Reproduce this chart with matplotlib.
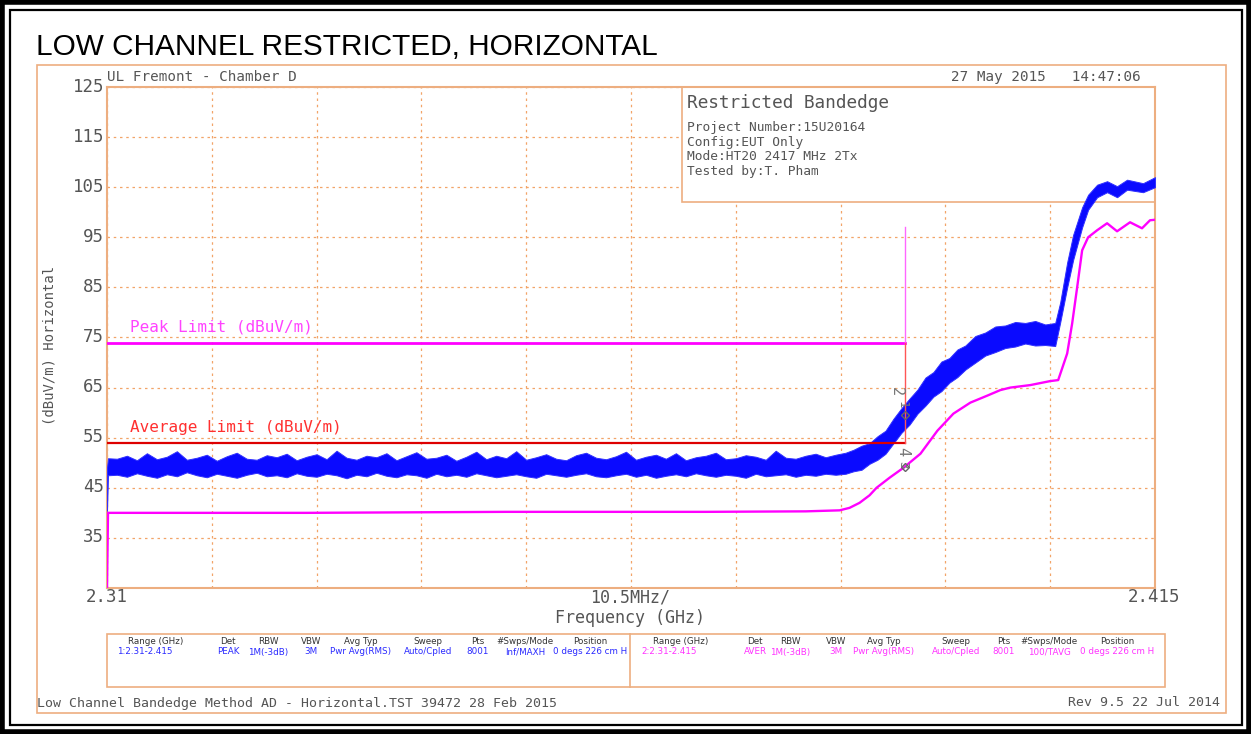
import matplotlib
matplotlib.use("Agg")
import matplotlib.pyplot as plt
from matplotlib.patches import Rectangle

# ---------------------------------------------------------------------------
# data (GHz / dBuV/m)
# peak trace is noisy, so it is kept as a low/high envelope
# ---------------------------------------------------------------------------
peak_freq = [2.3100, 2.3101,
             2.311, 2.312, 2.313, 2.314, 2.315, 2.316, 2.317, 2.318, 2.319, 2.320,
             2.321, 2.322, 2.323, 2.324, 2.325, 2.326, 2.327, 2.328, 2.329, 2.330,
             2.331, 2.332, 2.333, 2.334, 2.335, 2.336, 2.337, 2.338, 2.339, 2.340,
             2.341, 2.342, 2.343, 2.344, 2.345, 2.346, 2.347, 2.348, 2.349, 2.350,
             2.351, 2.352, 2.353, 2.354, 2.355, 2.356, 2.357, 2.358, 2.359, 2.360,
             2.361, 2.362, 2.363, 2.364, 2.365, 2.366, 2.367, 2.368, 2.369, 2.370,
             2.371, 2.372, 2.373, 2.374, 2.375, 2.376, 2.377, 2.378, 2.379, 2.380,
             2.381, 2.382, 2.383,
             2.3840, 2.3848, 2.3856, 2.3864, 2.3872, 2.3880, 2.3888, 2.3896, 2.3904,
             2.3912, 2.3920, 2.3928, 2.3936, 2.3944, 2.3952, 2.3960, 2.3970, 2.3980,
             2.3990, 2.4000, 2.4010, 2.4020, 2.4030, 2.4040, 2.4050,
             2.4055, 2.4062, 2.4068, 2.4077, 2.4083, 2.4092, 2.4102, 2.4112, 2.4122,
             2.4138, 2.4150]
peak_lo = [40.4, 47.5,
           47.6, 47.2, 47.9, 47.4, 47.0, 47.7, 47.3, 48.1, 47.5, 47.1,
           47.8, 47.4, 47.0, 47.6, 48.0, 47.3, 47.5, 47.1, 47.9, 47.4,
           47.2, 47.8, 47.5, 46.9, 47.6, 47.3, 48.0, 47.4, 47.1, 47.7,
           47.5, 47.0, 47.8, 47.3, 47.6, 47.2, 47.9, 47.5, 47.1, 47.4,
           47.7, 47.3, 47.0, 47.8, 47.5, 47.2, 47.6, 47.9, 47.3, 47.1,
           47.5, 47.8, 47.2, 47.6, 47.0, 47.4, 47.7, 47.3, 47.9, 47.5,
           47.2, 47.6, 47.4, 47.0, 47.8, 47.3, 47.5, 47.7, 47.2, 47.6,
           47.4, 47.8, 47.6,
           47.8, 48.3, 48.6, 49.8, 50.6, 51.8, 53.9, 56.0, 57.6,
           59.8, 61.4, 63.2, 64.3, 66.0, 67.1, 68.6, 70.0, 71.4,
           72.1, 72.9, 73.2, 73.8, 73.4, 73.5, 73.3,
           78.0, 85.0, 90.5, 97.0, 100.5, 103.0, 104.0, 103.0, 104.5,
           104.0, 105.0]
peak_hi = [49.0, 50.9,
           50.8, 51.4, 50.5, 51.9, 50.7, 51.2, 52.3, 50.6, 51.0, 51.6,
           50.4, 51.3, 52.0, 50.8, 50.6, 51.5, 51.1, 51.8, 50.5, 51.2,
           51.7, 50.7, 52.4, 51.0, 50.6, 51.4, 51.1, 51.9, 50.5, 51.3,
           52.1, 50.8, 51.0, 51.6, 50.4, 51.2, 52.2, 50.7, 51.4, 50.9,
           52.3, 50.6, 51.1, 51.7, 50.8, 50.5, 51.5, 52.0, 51.0, 50.7,
           51.3, 52.2, 50.6, 51.2, 51.6, 50.8, 51.9, 50.5, 51.1, 51.4,
           52.0, 50.7, 50.9, 51.5, 51.2, 50.6, 52.4, 51.0, 50.8, 51.4,
           51.8, 51.1, 51.6,
           52.0, 52.6, 53.4, 53.9, 55.3, 56.4, 58.8, 60.9, 62.8,
           64.6, 67.0, 68.1, 70.2, 70.9, 72.6, 73.4, 75.3, 76.0,
           77.2, 77.4, 78.1, 77.9, 78.3, 77.6, 77.9,
           82.0, 90.0, 95.5, 101.0, 103.5, 105.5, 106.2, 105.2, 106.5,
           105.8, 107.0]

avg_freq = [2.3100, 2.3101, 2.3300, 2.3500, 2.3700, 2.3800, 2.3834, 2.3844, 2.3854,
            2.3864, 2.3871, 2.3884, 2.3898, 2.3915, 2.3932, 2.3948, 2.3965, 2.3982,
            2.3995, 2.4005, 2.4025, 2.4045, 2.4053, 2.4062, 2.4067, 2.4072, 2.4077,
            2.4083, 2.4092, 2.4102, 2.4112, 2.4125, 2.4137, 2.4145, 2.4150]
avg_level = [25.0, 40.0, 40.0, 40.2, 40.2, 40.3, 40.5, 41.0, 42.0, 43.5, 45.0, 47.0,
             49.0, 51.8, 56.4, 59.8, 62.0, 63.4, 64.5, 65.0, 65.5, 66.3, 66.5, 71.8,
             77.8, 85.0, 92.4, 95.0, 96.4, 97.8, 96.2, 98.0, 96.8, 98.4, 98.5]

peak_limit_freq = [2.31, 2.39, 2.39]
peak_limit_level = [74, 74, 97]
avg_limit_freq = [2.31, 2.39, 2.39]
avg_limit_level = [54, 54, 74]

marker_freq = [2.39, 2.39]
marker_level = [59.6, 49.2]

info_lines = ["Project Number:15U20164", "Config:EUT Only",
              "Mode:HT20 2417 MHz 2Tx", "Tested by:T. Pham"]

headers = ["Range (GHz)", "Det", "RBW", "VBW", "Avg Typ", "Sweep", "Pts",
           "#Swps/Mode", "Position"]
trace1_setup = ["1:2.31-2.415", "PEAK", "1M(-3dB)", "3M", "Pwr Avg(RMS)",
                "Auto/Cpled", "8001", "Inf/MAXH", "0 degs 226 cm H"]
trace2_setup = ["2:2.31-2.415", "AVER", "1M(-3dB)", "3M", "Pwr Avg(RMS)",
                "Auto/Cpled", "8001", "100/TAVG", "0 degs 226 cm H"]

W, H = 1251, 734
ORANGE = "#EDAE80"
GRID = "#F2A468"
GREY = "#555555"
MONO = "DejaVu Sans Mono"

fig = plt.figure(figsize=(W / 100, H / 100), dpi=100)

# main plot area (pixel box 107..1155 x 87..588)
ax = fig.add_axes([107 / W, 1 - 588 / H, (1155 - 107) / W, (588 - 87) / H], zorder=2)
ax.set_xlim(2.31, 2.415)
ax.set_ylim(25, 125)
ax.set_xticks([2.31 + 0.0105 * i for i in range(11)])
ax.set_yticks(range(25, 126, 10))
ax.tick_params(length=0, labelbottom=False, labelleft=False)
ax.grid(True, color=GRID, linestyle=(0, (2, 3)), linewidth=0.9)
ax.set_axisbelow(True)
for s in ax.spines.values():
    s.set_color(ORANGE)
    s.set_linewidth(1.5)

# info box (white, hides the grid, under the traces)
ax.add_patch(Rectangle((2.3676, 102), 2.415 - 2.3676, 23, facecolor="white",
                       edgecolor=ORANGE, linewidth=1.2, zorder=1.5))

ax.fill_between(peak_freq, peak_lo, peak_hi, color="#0a0aff", linewidth=0.7,
                edgecolor="#3030ff", zorder=3)
ax.plot(avg_freq, avg_level, color="#ff00ff", linewidth=1.7, zorder=3)

ax.plot(peak_limit_freq[:2], peak_limit_level[:2], color="#ff00ff", linewidth=2, zorder=4)
ax.plot(peak_limit_freq[1:], peak_limit_level[1:], color="#ff66ff", linewidth=1, zorder=4)
ax.plot(avg_limit_freq[:2], avg_limit_level[:2], color="#dd0000", linewidth=1.6, zorder=4)
ax.plot(avg_limit_freq[1:], avg_limit_level[1:], color="#ff5555", linewidth=1, zorder=4)
ax.plot(marker_freq, marker_level, linestyle="none", marker="D", markersize=4,
        markerfacecolor="none", markeredgecolor="#666666", zorder=5)

ax.text(2.3123, 75.5, "Peak Limit (dBuV/m)", color="#ff44ff", fontsize=11.5,
        family=MONO, va="bottom")
ax.text(2.3123, 55.5, "Average Limit (dBuV/m)", color="#ff3030", fontsize=11.5,
        family=MONO, va="bottom")

# overlay in pixel coordinates for page furniture
ov = fig.add_axes([0, 0, 1, 1], zorder=3)
ov.set_xlim(0, W)
ov.set_ylim(H, 0)
ov.axis("off")
ov.patch.set_alpha(0)

# black page borders
ov.add_patch(Rectangle((2, 2), W - 4, H - 4, fill=False, edgecolor="black", linewidth=4))
ov.add_patch(Rectangle((9.5, 9.5), W - 19, H - 19, fill=False, edgecolor="black", linewidth=1.6))
# orange outer frame and legend box
ov.add_patch(Rectangle((37, 65), 1226 - 37, 713 - 65, fill=False, edgecolor=ORANGE, linewidth=1.2))
ov.add_patch(Rectangle((107, 634), 1165 - 107, 687 - 634, fill=False, edgecolor=ORANGE, linewidth=1.2))
ov.plot([630, 630], [634, 687], color=ORANGE, linewidth=1.2)

ov.text(36, 47, "LOW CHANNEL RESTRICTED, HORIZONTAL", fontsize=21.4,
        family="Liberation Sans", va="center", ha="left", color="black")
ov.text(107, 77, "UL Fremont - Chamber D", fontsize=10.3, family=MONO, color=GREY, va="center")
ov.text(1141, 77, "27 May 2015   14:47:06", fontsize=10.3, family=MONO, color=GREY,
        va="center", ha="right")

for v in range(35, 126, 10):
    ov.text(104, 87 + (125 - v) * 5, str(v), fontsize=12.5, family=MONO, color=GREY,
            ha="right", va="center")
ov.text(50, 345, "(dBuV/m) Horizontal", fontsize=10, family=MONO, color=GREY,
        rotation=90, ha="center", va="center")
ov.text(107, 597, "2.31", fontsize=12.5, family=MONO, color=GREY, ha="center", va="center")
ov.text(630, 597, "10.5MHz/", fontsize=12, family=MONO, color=GREY, ha="center", va="center")
ov.text(1154, 597, "2.415", fontsize=12.5, family=MONO, color=GREY, ha="center", va="center")
ov.text(630, 618, "Frequency (GHz)", fontsize=12, family=MONO, color=GREY, ha="center", va="center")

ov.text(687, 103, "Restricted Bandedge", fontsize=12.8, family=MONO, color=GREY, va="center")
for i, line in enumerate(info_lines):
    ov.text(687, 128 + i * 14.5, line, fontsize=9.3, family=MONO, color=GREY, va="center")

# marker labels
ov.text(896, 392, "2", fontsize=11, family=MONO, color="#777777", rotation=-90, ha="center", va="center")
ov.text(902, 405, "1", fontsize=9, family=MONO, color="#777777", rotation=-90, ha="center", va="center")
ov.text(903, 452, "4", fontsize=11, family=MONO, color="#777777", rotation=-90, ha="center", va="center")
ov.text(903, 465, "3", fontsize=9, family=MONO, color="#777777", rotation=-90, ha="center", va="center")

# legend table
left_x = [156, 228, 268, 311, 361, 428, 478, 525, 590]
right_x = [681, 755, 790, 836, 884, 956, 1004, 1049, 1117]
for hx, hd in zip(left_x, headers):
    ov.text(hx, 641, hd, fontsize=6.3, color="#333333", ha="center", va="center")
for hx, hd in zip(right_x, headers):
    ov.text(hx, 641, hd, fontsize=6.3, color="#333333", ha="center", va="center")
for j, (hx, val) in enumerate(zip(left_x, trace1_setup)):
    ov.text(117 if j == 0 else hx, 652, val, fontsize=6.3, color="#2a2aff",
            ha="left" if j == 0 else "center", va="center")
for j, (hx, val) in enumerate(zip(right_x, trace2_setup)):
    ov.text(641 if j == 0 else hx, 652, val, fontsize=6.3, color="#ff33ff",
            ha="left" if j == 0 else "center", va="center")

ov.text(37, 703, "Low Channel Bandedge Method AD - Horizontal.TST 39472 28 Feb 2015",
        fontsize=9.5, family=MONO, color=GREY, va="center")
ov.text(1220, 703, "Rev 9.5 22 Jul 2014", fontsize=9.5, family=MONO, color=GREY,
        va="center", ha="right")

fig.savefig("out.png", dpi=100)
